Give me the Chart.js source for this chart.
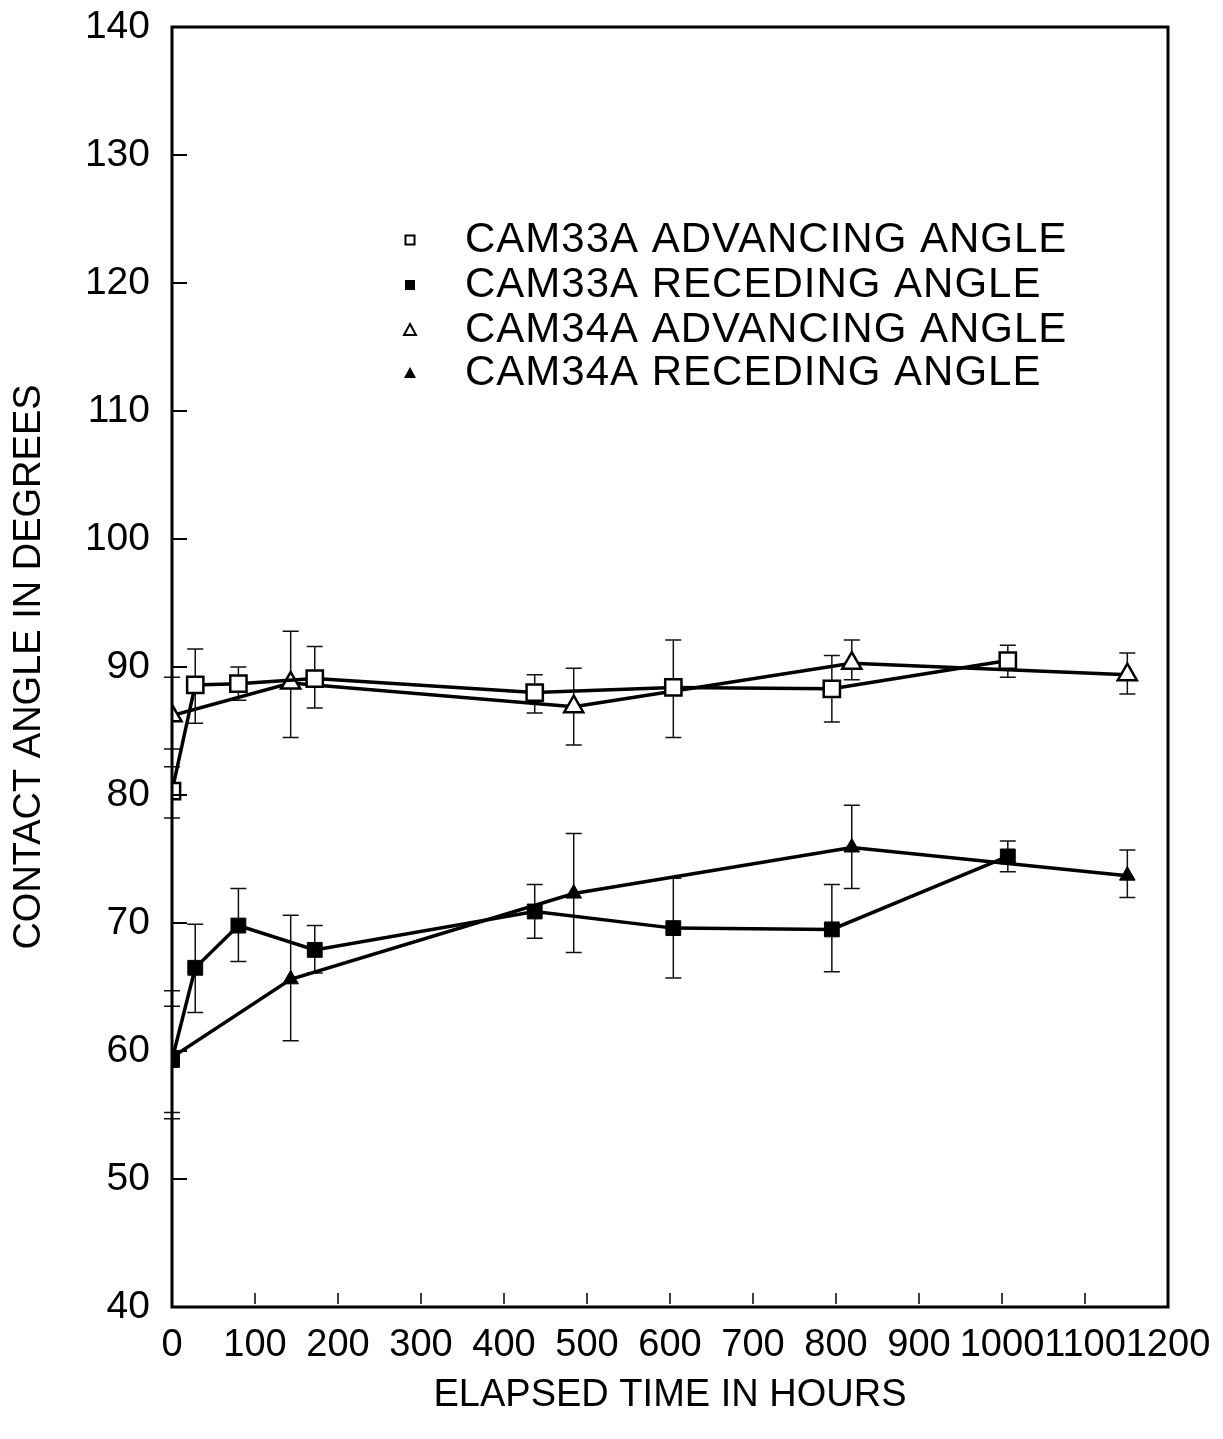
<!DOCTYPE html>
<html>
<head>
<meta charset="utf-8">
<script src="https://cdn.jsdelivr.net/npm/chart.js@4.4.1/dist/chart.umd.min.js"></script>
<style>
html, body { margin: 0; padding: 0; background: #fff; }
#wrap { width: 1223px; height: 1439px; }
</style>
</head>
<body>
<div id="wrap"><canvas id="c"></canvas></div>
<script>
// values (hours, degrees)
var seriesNames = [
  "CAM33A ADVANCING ANGLE",
  "CAM33A RECEDING ANGLE",
  "CAM34A ADVANCING ANGLE",
  "CAM34A RECEDING ANGLE"
];

var cam33Hours = [0, 28, 80, 172, 437, 604, 795, 1007];
var cam33AdvAngle = [80.3, 88.6, 88.7, 89.1, 88.0, 88.4, 88.3, 90.5];
var cam33AdvLow   = [78.2, 85.6, 87.4, 86.8, 86.4, 84.5, 85.7, 89.2];
var cam33AdvHigh  = [82.2, 91.4, 90.0, 91.6, 89.4, 92.1, 90.9, 91.7];
var cam33RecAngle = [59.3, 66.5, 69.8, 67.9, 70.9, 69.6, 69.5, 75.2];
var cam33RecLow   = [55.2, 63.0, 67.0, 66.1, 68.8, 65.7, 66.2, 74.0];
var cam33RecHigh  = [63.5, 69.9, 72.7, 69.8, 73.0, 73.5, 73.0, 76.4];

var cam34Hours = [0, 143, 484, 819, 1151];
var cam34AdvAngle = [86.2, 88.75, 86.9, 90.3, 89.4];
var cam34AdvLow   = [83.6, 84.5, 83.9, 89.0, 87.9];
var cam34AdvHigh  = [89.2, 92.8, 89.9, 92.1, 91.1];
var cam34RecAngle = [59.5, 65.6, 72.3, 75.9, 73.7];
var cam34RecLow   = [54.7, 60.8, 67.7, 72.7, 72.0];
var cam34RecHigh  = [64.7, 70.6, 77.0, 79.2, 75.7];

var xTickValues = [0, 100, 200, 300, 400, 500, 600, 700, 800, 900, 1000, 1100, 1200];
var yTickValues = [40, 50, 60, 70, 80, 90, 100, 110, 120, 130, 140];

var FONT = '"Liberation Sans", Arial, Helvetica, sans-serif';

function pts(xs, ys) {
  return xs.map(function (x, i) { return { x: x, y: ys[i] }; });
}

var errBars = [
  { hours: cam33Hours, low: cam33AdvLow, high: cam33AdvHigh },
  { hours: cam33Hours, low: cam33RecLow, high: cam33RecHigh },
  { hours: cam34Hours, low: cam34AdvLow, high: cam34AdvHigh },
  { hours: cam34Hours, low: cam34RecLow, high: cam34RecHigh }
];

var framePlugin = {
  id: "frame",
  beforeDatasetsDraw: function (chart) {
    var ctx = chart.ctx, xs = chart.scales.x, ys = chart.scales.y;
    ctx.save();
    ctx.strokeStyle = "#111";
    ctx.lineWidth = 1.5;
    errBars.forEach(function (e) {
      e.hours.forEach(function (h, i) {
        var px = xs.getPixelForValue(h);
        var lo = ys.getPixelForValue(e.low[i]);
        var hi = ys.getPixelForValue(e.high[i]);
        ctx.beginPath();
        ctx.moveTo(px, lo); ctx.lineTo(px, hi);
        ctx.moveTo(px - 8, lo); ctx.lineTo(px + 8, lo);
        ctx.moveTo(px - 8, hi); ctx.lineTo(px + 8, hi);
        ctx.stroke();
      });
    });
    ctx.restore();
  },
  afterDraw: function (chart) {
    var ctx = chart.ctx, a = chart.chartArea, xs = chart.scales.x, ys = chart.scales.y;
    ctx.save();
    ctx.strokeStyle = "#000";
    // inward ticks
    ctx.lineWidth = 2;
    yTickValues.forEach(function (v) {
      var py = ys.getPixelForValue(v);
      ctx.beginPath(); ctx.moveTo(a.left, py); ctx.lineTo(a.left + 15, py); ctx.stroke();
    });
    ctx.lineWidth = 1.5;
    xTickValues.forEach(function (v) {
      var px = xs.getPixelForValue(v);
      ctx.beginPath(); ctx.moveTo(px, a.bottom - 3); ctx.lineTo(px, a.bottom - 14); ctx.stroke();
    });
    // frame
    ctx.lineWidth = 3;
    ctx.strokeRect(a.left, a.top, a.right - a.left, a.bottom - a.top);

    // legend inside the plot
    var lx = 410, tx = 465, rows = [240, 285, 330, 373];
    ctx.font = "42px " + FONT;
    ctx.fillStyle = "#000";
    ctx.textBaseline = "middle";
    ctx.textAlign = "left";
    if ("letterSpacing" in ctx) ctx.letterSpacing = "1px";
    seriesNames.forEach(function (name, i) {
      var y = rows[i];
      ctx.lineWidth = 2;
      if (i === 0) {
        ctx.strokeRect(lx - 4.5, y - 4.5, 9, 9);
      } else if (i === 1) {
        ctx.fillRect(lx - 5, y - 5, 10, 10);
      } else {
        ctx.beginPath();
        ctx.moveTo(lx, y - 6); ctx.lineTo(lx + 6, y + 5); ctx.lineTo(lx - 6, y + 5); ctx.closePath();
        if (i === 2) ctx.stroke(); else ctx.fill();
      }
      ctx.fillText(name, tx, y);
    });
    ctx.restore();
  }
};

var lineStyle = { borderColor: "#000", borderWidth: 3.5, showLine: true, tension: 0, pointBorderColor: "#000" };

new Chart(document.getElementById("c"), {
  type: "scatter",
  data: {
    datasets: [
      Object.assign({ label: seriesNames[1], data: pts(cam33Hours, cam33RecAngle), pointStyle: "rect", pointRadius: 10.5, pointBackgroundColor: "#000", pointBorderWidth: 1 }, lineStyle),
      Object.assign({ label: seriesNames[3], data: pts(cam34Hours, cam34RecAngle), pointStyle: "triangle", pointRadius: 9, pointBackgroundColor: "#000", pointBorderWidth: 1 }, lineStyle),
      Object.assign({ label: seriesNames[0], data: pts(cam33Hours, cam33AdvAngle), pointStyle: "rect", pointRadius: 11.5, pointBackgroundColor: "#fff", pointBorderWidth: 2.5 }, lineStyle),
      Object.assign({ label: seriesNames[2], data: pts(cam34Hours, cam34AdvAngle), pointStyle: "triangle", pointRadius: 11, pointBackgroundColor: "#fff", pointBorderWidth: 2.5 }, lineStyle)
    ]
  },
  options: {
    responsive: true,
    maintainAspectRatio: false,
    animation: false,
    layout: { padding: { top: 27, right: 55, left: 0, bottom: 0 } },
    plugins: { legend: { display: false }, tooltip: { enabled: false } },
    scales: {
      x: {
        type: "linear", min: 0, max: 1200,
        afterFit: function (s) { s.height = 132; s.paddingLeft = 0; s.paddingRight = 0; },
        afterBuildTicks: function (s) { s.ticks = xTickValues.map(function (v) { return { value: v }; }); },
        grid: { display: false, drawTicks: false },
        border: { display: false },
        ticks: { autoSkip: false, maxRotation: 0, padding: 16, color: "#000", font: { family: FONT, size: 38 },
                 callback: function (v) { return String(v); } },
        title: { display: true, text: "ELAPSED TIME IN HOURS", color: "#000", font: { family: FONT, size: 38 }, padding: { top: 0, bottom: 21 } }
      },
      y: {
        type: "linear", min: 40, max: 140,
        afterFit: function (s) { s.width = 172; s.paddingTop = 0; s.paddingBottom = 0; },
        afterBuildTicks: function (s) { s.ticks = yTickValues.map(function (v) { return { value: v }; }); },
        grid: { display: false, drawTicks: false },
        border: { display: false },
        ticks: { padding: 22, color: "#000", font: { family: FONT, size: 39 }, callback: function (v) { return String(v); } },
        title: { display: true, text: "CONTACT ANGLE IN DEGREES", color: "#000", font: { family: FONT, size: 38 }, padding: { top: 7, bottom: 0 } }
      }
    }
  },
  plugins: [framePlugin]
});
</script>
</body>
</html>
